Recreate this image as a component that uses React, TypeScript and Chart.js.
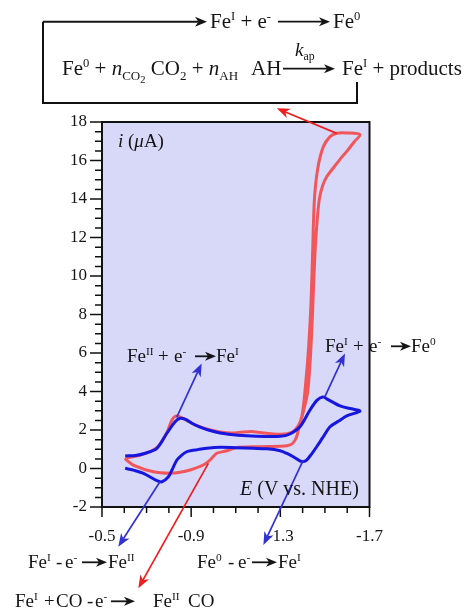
import React, { useEffect, useRef } from "react";
import { Chart, registerables } from "chart.js";

Chart.register(...registerables);

// ---- Data: potential E (V vs. NHE) and current i (µA) ----
const blueE = [
  -0.604, -0.65, -0.69, -0.746, -0.791, -0.828, -0.851, -0.875, -0.903, -0.94, -0.977, -1.03, -1.067, -1.15,
  -1.231, -1.3, -1.34, -1.388, -1.433, -1.465, -1.49, -1.508, -1.568, -1.62, -1.657,
  -1.598, -1.56, -1.523, -1.49, -1.463, -1.44, -1.418, -1.403, -1.39, -1.358, -1.33, -1.299, -1.24, -1.179,
  -1.1, -1.03, -0.97, -0.93, -0.902, -0.88, -0.858, -0.836, -0.815, -0.798, -0.769, -0.746, -0.686, -0.645, -0.604,
];
const blueI = [
  0.65, 0.68, 0.78, 1.05, 1.83, 2.43, 2.61, 2.55, 2.35, 2.15, 2.0, 1.84, 1.78, 1.7,
  1.66, 1.67, 1.78, 2.17, 3.04, 3.55, 3.72, 3.62, 3.25, 3.1, 2.98,
  2.73, 2.45, 2.17, 1.6, 1.13, 0.75, 0.44, 0.36, 0.38, 0.61, 0.78, 0.92, 1.02, 1.05,
  1.08, 1.1, 1.05, 0.98, 0.94, 0.87, 0.7, 0.44, -0.05, -0.43, -0.69, -0.63, -0.25, -0.1, 0.01,
];
const redE = [
  -0.61, -0.68, -0.746, -0.79, -0.813, -0.83, -0.85, -0.88, -0.92, -0.977, -1.03, -1.08, -1.12, -1.17, -1.21,
  -1.26, -1.33, -1.366, -1.396, -1.415, -1.427, -1.438, -1.446, -1.453, -1.468, -1.493, -1.523, -1.553, -1.6,
  -1.657, -1.63, -1.6, -1.57, -1.54, -1.508, -1.49, -1.475, -1.463, -1.454, -1.445, -1.436, -1.423, -1.4,
  -1.388, -1.373, -1.355, -1.33, -1.299, -1.2, -1.1, -1.06, -1.015, -0.99, -0.954, -0.895, -0.85, -0.805,
  -0.73, -0.64, -0.612, -0.603,
];
const redI = [
  0.55, 0.72, 1.08, 1.85, 2.5, 2.72, 2.68, 2.5, 2.25, 2.03, 1.9, 1.84, 1.88, 1.92, 1.87,
  1.8, 1.8, 2.0, 2.69, 4.6, 6.33, 8.7, 11.7, 14.0, 15.6, 16.72, 17.24, 17.42, 17.43,
  17.35, 16.95, 16.5, 16.1, 15.65, 15.16, 14.7, 14.0, 12.56, 10.83, 8.23, 6.0, 4.0, 2.8,
  2.35, 1.65, 1.3, 1.18, 1.15, 1.13, 1.08, 0.92, 0.79, 0.5, 0.18, -0.08, -0.2, -0.25,
  -0.17, 0.18, 0.42, 0.53,
];

const xMajorTicks = [-0.5, -0.9, -1.3, -1.7];
const yMajorTicks = [-2, 0, 2, 4, 6, 8, 10, 12, 14, 16, 18];

// Arrows pointing from curve features (data coordinates [E, i])
const blueArrows = [
  { from: [-0.835, 2.66], to: [-0.947, 5.46] },
  { from: [-0.76, -0.69], to: [-0.573, -4.06] },
  { from: [-1.5, 3.73], to: [-1.59, 5.98] },
  { from: [-1.403, 0.44], to: [-1.224, -3.97] },
];
const redArrows = [
  { from: [-0.977, 0.27], to: [-0.663, -6.22] },
  { from: [-1.553, 17.41], to: [-1.284, 18.71] },
];

const BLUE = "rgb(22,22,225)";
const RED = "rgba(243,76,76,0.92)";
const BLUE_ARROW = "rgb(50,50,210)";
const RED_ARROW = "rgb(238,30,30)";
const PLOT_BG = "#d8d8f9";
const FONT = '"Liberation Serif", "Times New Roman", serif';

type Seg = { x?: number; t?: string; k?: "sup" | "sub" | "ss"; it?: boolean; arrow?: number };

function arrowShape(ctx: CanvasRenderingContext2D, x1: number, y1: number, x2: number, y2: number, color: string, lw: number, hl: number, hw: number) {
  const dx = x2 - x1, dy = y2 - y1;
  const len = Math.hypot(dx, dy);
  const ux = dx / len, uy = dy / len;
  const nx = -uy, ny = ux;
  const bx = x2 - ux * hl, by = y2 - uy * hl;
  const mx = x2 - ux * hl * 0.72, my = y2 - uy * hl * 0.72;
  ctx.save();
  ctx.strokeStyle = color;
  ctx.fillStyle = color;
  ctx.lineWidth = lw;
  ctx.beginPath();
  ctx.moveTo(x1, y1);
  ctx.lineTo(mx, my);
  ctx.stroke();
  ctx.beginPath();
  ctx.moveTo(x2, y2);
  ctx.lineTo(bx + nx * hw, by + ny * hw);
  ctx.lineTo(mx, my);
  ctx.lineTo(bx - nx * hw, by - ny * hw);
  ctx.closePath();
  ctx.fill();
  ctx.restore();
}

function drawRich(ctx: CanvasRenderingContext2D, x0: number, y: number, segs: Seg[], size: number) {
  let cx = x0;
  ctx.save();
  ctx.fillStyle = "#151515";
  ctx.textBaseline = "alphabetic";
  ctx.textAlign = "left";
  for (const s of segs) {
    if (s.x !== undefined) cx = s.x;
    if (s.arrow) {
      arrowShape(ctx, cx, y - size * 0.3, cx + s.arrow, y - size * 0.3, "#151515", 1.8, 11, 4.5);
      cx += s.arrow;
      continue;
    }
    if (!s.t) continue;
    let fs = size, dy = 0;
    if (s.k === "sup") { fs = size * 0.6; dy = -size * 0.36; }
    if (s.k === "sub") { fs = size * 0.62; dy = size * 0.22; }
    if (s.k === "ss") { fs = size * 0.5; dy = size * 0.4; }
    ctx.font = `${s.it ? "italic " : ""}${fs}px ${FONT}`;
    ctx.fillText(s.t, cx, y + dy);
    cx += ctx.measureText(s.t).width;
  }
  ctx.restore();
}

const labels: { x: number; y: number; size: number; segs: Seg[] }[] = [
  { x: 210, y: 28, size: 21, segs: [{ t: "Fe" }, { t: "I", k: "sup" }, { t: " + e" }, { t: "-", k: "sup" }, { x: 278, arrow: 52 }, { x: 333, t: "Fe" }, { t: "0", k: "sup" }] },
  {
    x: 62, y: 75, size: 21, segs: [
      { t: "Fe" }, { t: "0", k: "sup" }, { t: " + " }, { t: "n", it: true }, { t: "CO", k: "sub" }, { t: "2", k: "ss" },
      { t: " CO" }, { t: "2", k: "sub" }, { t: " + " }, { t: "n", it: true }, { t: "AH", k: "sub" },
      { x: 251, t: "AH" }, { x: 283, arrow: 52 }, { x: 342, t: "Fe" }, { t: "I", k: "sup" }, { t: " + products" },
    ],
  },
  { x: 295, y: 56, size: 19, segs: [{ t: "k", it: true }, { t: "ap", k: "sub" }] },
  { x: 127, y: 362, size: 19, segs: [{ t: "Fe" }, { t: "II", k: "sup" }, { x: 158, t: "+" }, { x: 174, t: "e" }, { t: "-", k: "sup" }, { x: 195, arrow: 21 }, { x: 216, t: "Fe" }, { t: "I", k: "sup" }] },
  { x: 325, y: 352, size: 19, segs: [{ t: "Fe" }, { t: "I", k: "sup" }, { x: 353, t: "+" }, { x: 369, t: "e" }, { t: "-", k: "sup" }, { x: 391, arrow: 20 }, { x: 411, t: "Fe" }, { t: "0", k: "sup" }] },
  { x: 28, y: 568, size: 19, segs: [{ t: "Fe" }, { t: "I", k: "sup" }, { x: 56, t: "-" }, { x: 65, t: "e" }, { t: "-", k: "sup" }, { x: 82, arrow: 25 }, { x: 108, t: "Fe" }, { t: "II", k: "sup" }] },
  { x: 197, y: 568, size: 19, segs: [{ t: "Fe" }, { t: "0", k: "sup" }, { x: 228, t: "-" }, { x: 238, t: "e" }, { t: "-", k: "sup" }, { x: 252, arrow: 25 }, { x: 278, t: "Fe" }, { t: "I", k: "sup" }] },
  { x: 15, y: 607, size: 19, segs: [{ t: "Fe" }, { t: "I", k: "sup" }, { x: 44, t: "+" }, { x: 56, t: "CO" }, { x: 87, t: "-" }, { x: 95, t: "e" }, { t: "-", k: "sup" }, { x: 111, arrow: 24 }, { x: 153, t: "Fe" }, { t: "II", k: "sup" }, { x: 188, t: "CO" }] },
  { x: 118, y: 147, size: 19, segs: [{ t: "i", it: true }, { t: " (" }, { t: "\u03bc", it: true }, { t: "A)" }] },
  { x: 240, y: 495, size: 20, segs: [{ t: "E", it: true }, { t: " (V vs. NHE)" }] },
];

const deco = {
  id: "deco",
  beforeDraw(chart: any) {
    const { ctx, chartArea: a } = chart;
    ctx.save();
    ctx.fillStyle = PLOT_BG;
    ctx.fillRect(a.left, a.top, a.right - a.left, a.bottom - a.top);
    ctx.restore();
  },
  afterDraw(chart: any) {
    const { ctx, chartArea: a } = chart;
    const xs = chart.scales.x, ys = chart.scales.y;
    ctx.save();
    // frame
    ctx.strokeStyle = "#111";
    ctx.lineWidth = 2;
    ctx.strokeRect(a.left, a.top, a.right - a.left, a.bottom - a.top);
    // ticks
    ctx.lineWidth = 1.5;
    ctx.beginPath();
    for (let k = -17; k <= -5; k++) {
      const px = xs.getPixelForValue(k / 10);
      const major = (k + 5) % 4 === 0;
      ctx.moveTo(px, a.bottom);
      ctx.lineTo(px, a.bottom + (major ? 10 : 6));
    }
    for (let k = -4; k <= 36; k++) {
      const py = ys.getPixelForValue(k / 2);
      const major = k % 4 === 0;
      ctx.moveTo(a.left, py);
      ctx.lineTo(a.left - (major ? 12 : 7), py);
    }
    ctx.stroke();
    // top bracket
    ctx.lineWidth = 2;
    ctx.beginPath();
    ctx.moveTo(43, 21.7);
    ctx.lineTo(43, 103);
    ctx.lineTo(357, 103);
    ctx.lineTo(357, 82);
    ctx.stroke();
    arrowShape(ctx, 43, 21.7, 207, 21.7, "#151515", 2, 12, 5);
    ctx.restore();

    for (const ar of blueArrows) {
      arrowShape(ctx, xs.getPixelForValue(ar.from[0]), ys.getPixelForValue(ar.from[1]), xs.getPixelForValue(ar.to[0]), ys.getPixelForValue(ar.to[1]), BLUE_ARROW, 1.7, 13, 5);
    }
    for (const ar of redArrows) {
      arrowShape(ctx, xs.getPixelForValue(ar.from[0]), ys.getPixelForValue(ar.from[1]), xs.getPixelForValue(ar.to[0]), ys.getPixelForValue(ar.to[1]), RED_ARROW, 1.7, 13, 5);
    }
    for (const l of labels) drawRich(ctx, l.x, l.y, l.segs, l.size);
  },
};

export default function App() {
  const ref = useRef<HTMLCanvasElement>(null);
  useEffect(() => {
    document.body.style.margin = "0";
    const canvas = ref.current!;
    const chart = new Chart(canvas, {
      type: "scatter",
      data: {
        datasets: [
          {
            label: "blue",
            data: blueE.map((x, i) => ({ x, y: blueI[i] })),
            showLine: true,
            borderColor: BLUE,
            borderWidth: 3,
            pointRadius: 0,
            tension: 0.3,
            fill: false,
            order: 0,
          },
          {
            label: "red",
            data: redE.map((x, i) => ({ x, y: redI[i] })),
            showLine: true,
            borderColor: RED,
            borderWidth: 3,
            pointRadius: 0,
            tension: 0.3,
            fill: false,
            order: 1,
          },
        ],
      },
      options: {
        responsive: false,
        animation: false,
        devicePixelRatio: 1,
        events: [],
        layout: { padding: { left: 0, top: 122, right: 103.5, bottom: 0 } },
        plugins: { legend: { display: false }, tooltip: { enabled: false } },
        scales: {
          x: {
            type: "linear",
            min: -1.7,
            max: -0.5,
            reverse: true,
            afterBuildTicks: (s: any) => {
              s.ticks = xMajorTicks.map((v) => ({ value: v }));
            },
            afterFit: (s: any) => {
              s.height = 103;
            },
            grid: { display: false, drawTicks: false },
            border: { display: false },
            ticks: {
              padding: 19,
              color: "#151515",
              autoSkip: false,
              maxRotation: 0,
              font: { family: FONT, size: 17 },
              callback: (v: any) => Number(v).toFixed(1),
            },
          },
          y: {
            type: "linear",
            min: -2,
            max: 18,
            afterBuildTicks: (s: any) => {
              s.ticks = yMajorTicks.map((v) => ({ value: v }));
            },
            afterFit: (s: any) => {
              s.width = 102;
            },
            grid: { display: false, drawTicks: false },
            border: { display: false },
            ticks: {
              padding: 15,
              color: "#151515",
              autoSkip: false,
              font: { family: FONT, size: 17 },
              callback: (v: any) => String(v),
            },
          },
        },
      },
      plugins: [deco],
    });
    return () => chart.destroy();
  }, []);
  return <canvas ref={ref} width={473} height={610} style={{ display: "block", width: 473, height: 610 }} />;
}
